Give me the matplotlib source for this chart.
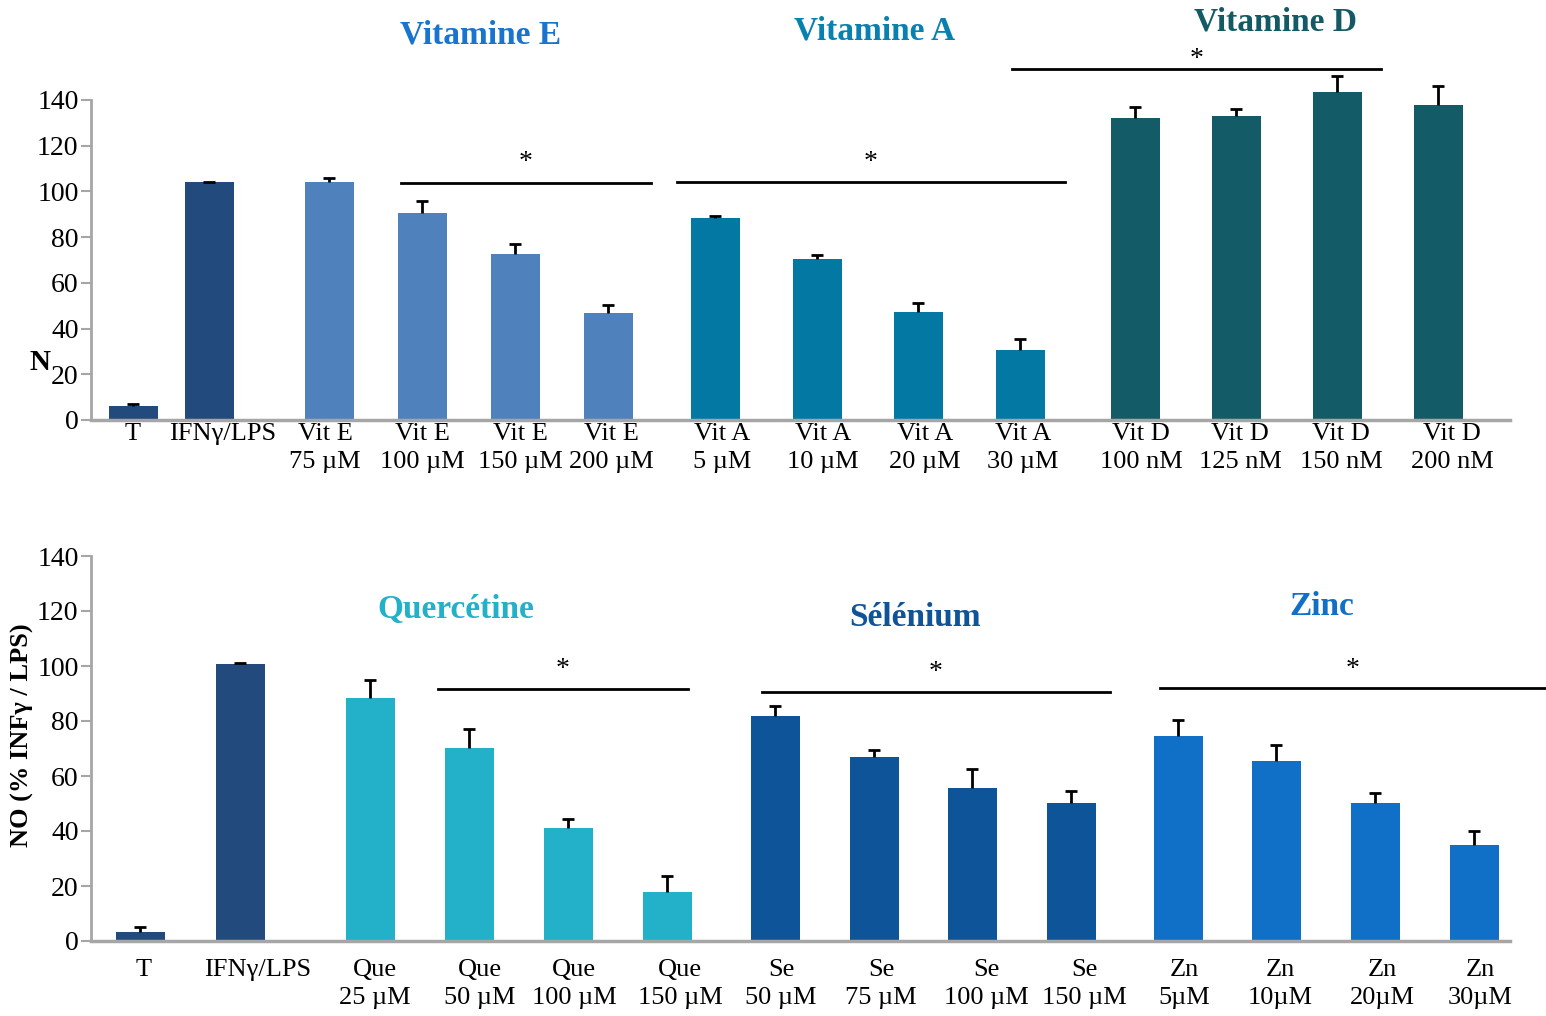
import matplotlib.pyplot as plt

plt.rcParams['font.family'] = ['Liberation Serif', 'DejaVu Serif']

# Données du panneau du haut (vitamines)
haut_labels = ['T', 'IFNγ/LPS',
               'Vit E\n75 µM', 'Vit E\n100 µM', 'Vit E\n150 µM', 'Vit E\n200 µM',
               'Vit A\n5 µM', 'Vit A\n10 µM', 'Vit A\n20 µM', 'Vit A\n30 µM',
               'Vit D\n100 nM', 'Vit D\n125 nM', 'Vit D\n150 nM', 'Vit D\n200 nM']
haut_valeurs = [6, 104, 104, 90.5, 72.6, 46.8, 88.4, 70.4, 47.2, 30.6, 132, 133, 143.5, 138]
haut_erreurs = [1, 0, 2, 5.5, 4.5, 3.5, 1, 1.8, 3.8, 4.8, 5, 3, 7, 8]

# Données du panneau du bas (quercétine, sélénium, zinc)
bas_labels = ['T', 'IFNγ/LPS',
              'Que\n25 µM', 'Que\n50 µM', 'Que\n100 µM', 'Que\n150 µM',
              'Se\n50 µM', 'Se\n75 µM', 'Se\n100 µM', 'Se\n150 µM',
              'Zn\n5µM', 'Zn\n10µM', 'Zn\n20µM', 'Zn\n30µM']
bas_valeurs = [3.3, 100.7, 88.4, 70.2, 41, 17.8, 81.8, 67, 55.6, 50.2, 74.5, 65.5, 50.2, 35]
bas_erreurs = [1.8, 0.4, 6.6, 6.8, 3.3, 5.8, 3.7, 2.5, 7, 4.3, 5.9, 5.8, 3.6, 5]

# Positions des barres et des étiquettes (mise en page)
haut_x = [133, 209, 329, 422, 515, 608, 715, 817, 918, 1020, 1135, 1236, 1337, 1438]
haut_tx = [133, 223, 325, 422, 520, 611, 722, 823, 925, 1023, 1141, 1240, 1341, 1452]
bas_x = [140, 240, 370, 469, 568, 667, 775, 874, 972, 1071, 1178, 1276, 1375, 1474]
bas_tx = [144, 258, 375, 480, 574, 680, 781, 881, 986, 1084, 1184, 1280, 1382, 1480]

# Couleurs
navy = '#224A7C'
haut_couleurs = [navy] * 2 + ['#4F81BD'] * 4 + ['#0278A3'] * 4 + ['#135B66'] * 4
bas_couleurs = [navy] * 2 + ['#22B1C9'] * 4 + ['#0E5499'] * 4 + ['#1070C8'] * 4

# Titres des groupes : (texte, x, y, couleur)
haut_titres = [('Vitamine E', 481, 168.4, '#1874CD'),
               ('Vitamine A', 875, 170.2, '#0880B0'),
               ('Vitamine D', 1275, 174.1, '#145A64')]
bas_titres = [('Quercétine', 456, 120.7, '#22B1C8'),
              ('Sélénium', 915, 117.8, '#0F5499'),
              ('Zinc', 1322, 121.5, '#1070C8')]

# Lignes de significativité : (x debut, x fin, y ligne, y etoile)
haut_sig = [(401, 651, 103.7, 112.5), (677, 1065, 104.1, 112.5), (1012, 1381, 153.5, 157.6)]
bas_sig = [(438, 688, 91.6, 98.8), (762, 1110, 90.5, 97.7), (1160, 1546, 92, 98.8)]

W, H = 1546, 1016
fig = plt.figure(figsize=(W / 100, H / 100), dpi=100)


def axes_px(gauche, droite, haut, bas):
    return fig.add_axes([gauche / W, 1 - bas / H, (droite - gauche) / W, (bas - haut) / H])


def dessiner(ax, x, tx, valeurs, erreurs, couleurs, labels, titres, sig, ymax, pad):
    ax.bar(x, valeurs, width=49, color=couleurs, zorder=2)
    eb = ax.errorbar(x, valeurs, yerr=[[0] * len(erreurs), erreurs], fmt='none',
                     ecolor='black', elinewidth=2, capsize=4, capthick=2, zorder=3)
    # seulement la barre d'erreur vers le haut
    eb[1][0].set_visible(False)
    ax.set_xlim(91, 1546)
    ax.set_ylim(0, ymax)
    ax.set_yticks(range(0, 141, 20))
    ax.set_xticks(tx, labels)
    for t in ax.get_xticklabels():
        t.set_linespacing(1.35)
    ax.tick_params(axis='x', length=0, pad=pad, labelsize=19)
    ax.tick_params(axis='y', direction='out', length=7, width=1.5,
                   color='#A6A6A6', labelsize=20, pad=2)
    for s in ['top', 'right']:
        ax.spines[s].set_visible(False)
    ax.spines['left'].set_bounds(0, 140)
    ax.spines['left'].set_color('#A6A6A6')
    ax.spines['left'].set_linewidth(2)
    ax.spines['bottom'].set_bounds(91, 1510)
    ax.spines['bottom'].set_color('#A6A6A6')
    ax.spines['bottom'].set_linewidth(2.5)
    for texte, ttx, tty, c in titres:
        ax.text(ttx, tty, texte, color=c, fontsize=24, fontweight='bold',
                ha='center', va='center', clip_on=False)
    for x0, x1, yl, ye in sig:
        ax.plot([x0, x1], [yl, yl], color='black', lw=2, clip_on=False)
        ax.text((x0 + x1) / 2, ye, '*', fontsize=20, ha='center', va='center',
                clip_on=False)


ax1 = axes_px(91, 1546, 10, 420)
dessiner(ax1, haut_x, haut_tx, haut_valeurs, haut_erreurs, haut_couleurs, haut_labels,
         haut_titres, haut_sig, (420 - 10) / 2.286, 2)

ax2 = axes_px(91, 1546, 546, 941)
dessiner(ax2, bas_x, bas_tx, bas_valeurs, bas_erreurs, bas_couleurs, bas_labels,
         bas_titres, bas_sig, (941 - 546) / 2.75, 13)

# Axes y
fig.text(40 / W, 1 - 362 / H, 'N', fontsize=21, fontweight='bold',
         ha='center', va='center')
fig.text(22 / W, 1 - 735 / H, 'NO (% INFγ / LPS)', fontsize=19, fontweight='bold',
         rotation=90, ha='center', va='center')

plt.savefig('out.png', dpi=100)
